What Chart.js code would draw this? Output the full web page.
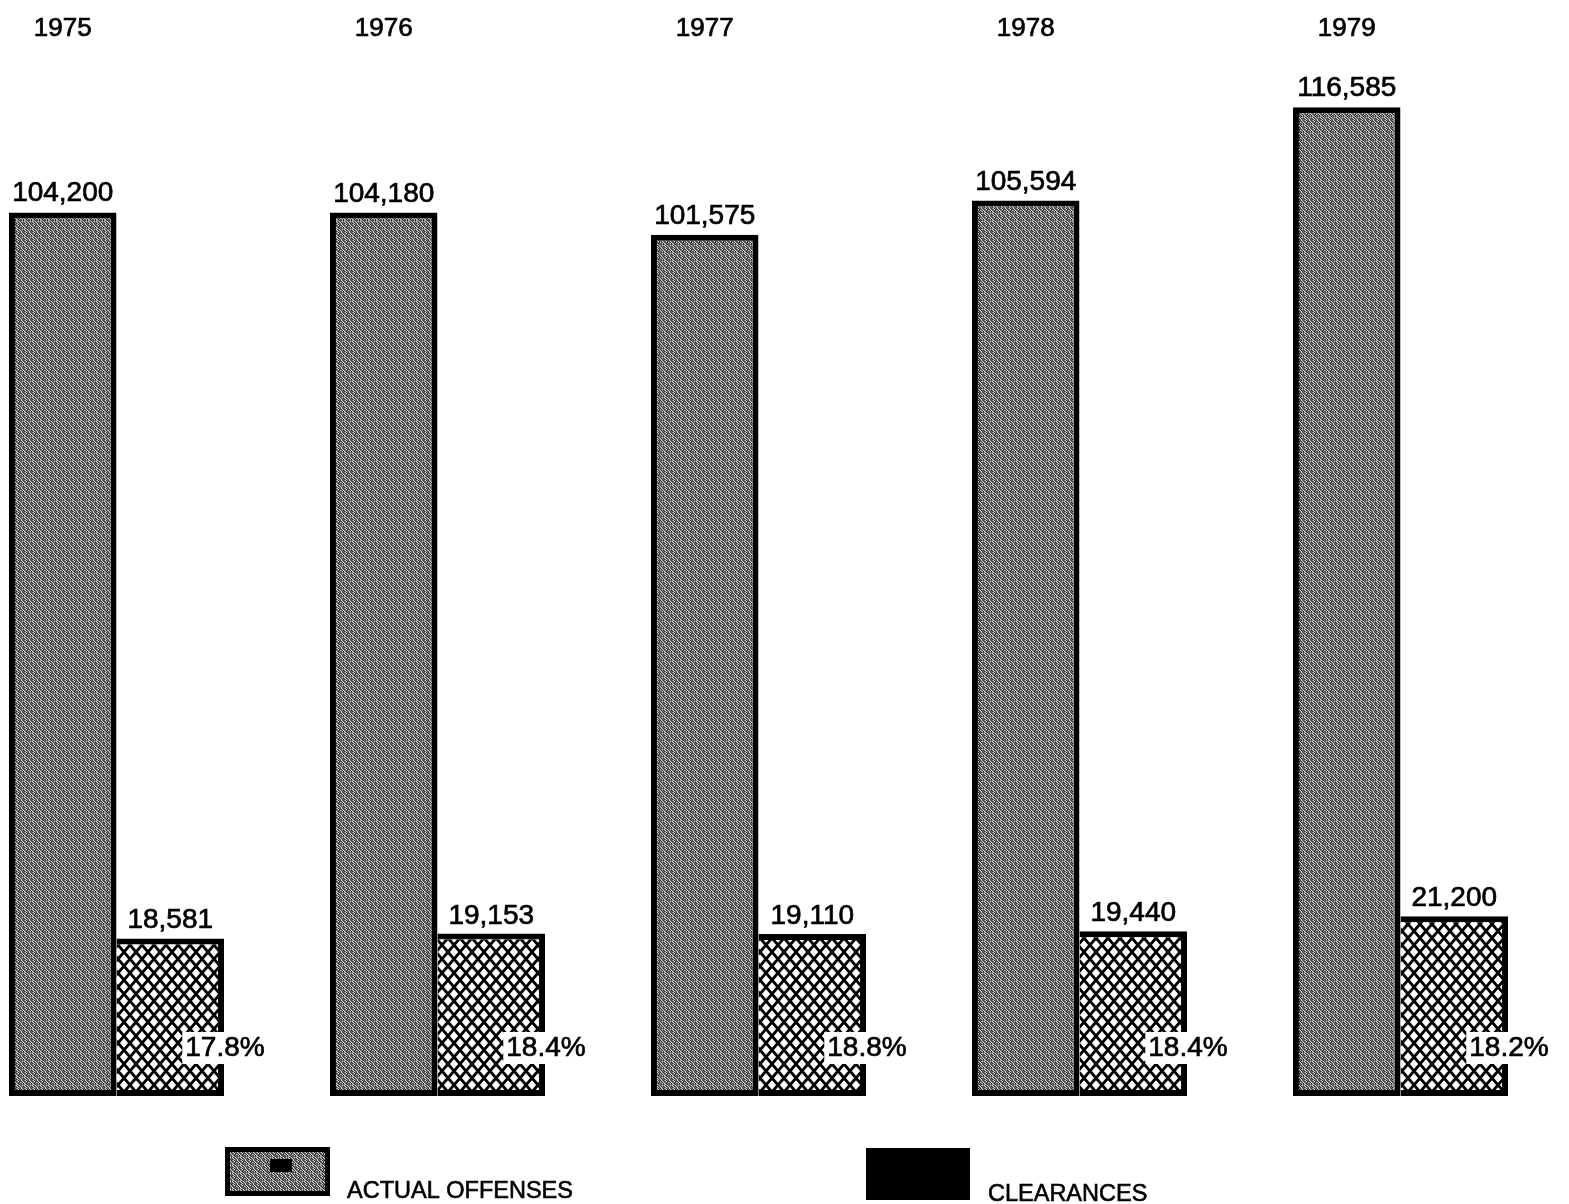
<!DOCTYPE html>
<html>
<head>
<meta charset="utf-8">
<script src="https://cdn.jsdelivr.net/npm/chart.js@4.4.1/dist/chart.umd.min.js"></script>
<style>
  html, body { margin: 0; padding: 0; background: #fff; overflow: hidden; }
  #wrap { position: absolute; left: -44px; top: 0; width: 1605px; height: 1204px; }
</style>
</head>
<body>
<div id="wrap"><canvas id="chart" width="1605" height="1204"></canvas></div>
<script>
const years = ["1975", "1976", "1977", "1978", "1979"];
const offenses = [104200, 104180, 101575, 105594, 116585];
const clearances = [18581, 19153, 19110, 19440, 21200];
const clearanceRates = ["17.8%", "18.4%", "18.8%", "18.4%", "18.2%"];
const legendLabels = ["ACTUAL OFFENSES", "CLEARANCES"];

const FONT = "'Liberation Sans', Arial, sans-serif";
const SHIFT = 44; // canvas sits 44px left of the page

// gray stipple used for the offense bars
function stipple() {
    const rows = [
        "#.+#+.#+",
        "+#.+#+.#",
        ".+#.+#+#",
        "#+.#.+#+",
        "+#+#+.+#",
        "#+.+.#+.",
        ".#+#+.#+",
        "+.#+#+.#"
    ];
    const shades = { "#": "#2e2e2e", "+": "#7e7e7e", ".": "#cfcfcf" };
    const c = document.createElement("canvas");
    c.width = 8; c.height = 8;
    const g = c.getContext("2d");
    rows.forEach((r, y) => {
        [...r].forEach((ch, x) => {
            g.fillStyle = shades[ch];
            g.fillRect(x, y, 1, 1);
        });
    });
    return g.createPattern(c, "repeat");
}

// diamond crosshatch used for the clearance bars
function crosshatch() {
    const w = 12, h = 14;
    const c = document.createElement("canvas");
    c.width = w; c.height = h;
    const g = c.getContext("2d");
    g.fillStyle = "#fff";
    g.fillRect(0, 0, w, h);
    g.strokeStyle = "#000";
    g.lineWidth = 2.8;
    for (let dx = -w; dx <= w; dx += w) {
        g.beginPath();
        g.moveTo(dx, 0); g.lineTo(dx + w, h);
        g.moveTo(dx + w, 0); g.lineTo(dx, h);
        g.stroke();
    }
    return g.createPattern(c, "repeat");
}

function heavyText(ctx, txt, x, y) {
    ctx.strokeText(txt, x, y);
    ctx.fillText(txt, x, y);
}

const labelPlugin = {
    id: "labels",
    afterDatasetsDraw(chart) {
        const ctx = chart.ctx;
        const offBars = chart.getDatasetMeta(0).data;
        const clrBars = chart.getDatasetMeta(1).data;
        ctx.save();
        ctx.fillStyle = "#000";
        ctx.strokeStyle = "#000";
        ctx.lineWidth = 0.7;
        ctx.textBaseline = "alphabetic";

        offBars.forEach((bar, i) => {
            ctx.textAlign = "center";
            ctx.font = "26px " + FONT;
            heavyText(ctx, years[i], bar.x, 36);
            ctx.font = "28px " + FONT;
            heavyText(ctx, offenses[i].toLocaleString("en-US"), bar.x, bar.y - 11);
        });

        clrBars.forEach((bar, i) => {
            ctx.textAlign = "center";
            ctx.font = "28px " + FONT;
            heavyText(ctx, clearances[i].toLocaleString("en-US"), bar.x, bar.y - 10);

            const txt = clearanceRates[i];
            const tw = ctx.measureText(txt).width;
            const left = bar.x + 15;
            const mid = bar.base - 48;
            ctx.fillStyle = "#fff";
            ctx.fillRect(left - 3, mid - 16, tw + 6, 32);
            ctx.fillStyle = "#000";
            ctx.textAlign = "left";
            ctx.textBaseline = "middle";
            heavyText(ctx, txt, left, mid);
            ctx.textBaseline = "alphabetic";
        });

        // legend
        ctx.fillStyle = chart.data.datasets[0].backgroundColor;
        ctx.fillRect(225 + SHIFT, 1147, 105, 49);
        ctx.lineWidth = 5;
        ctx.strokeRect(227.5 + SHIFT, 1149.5, 100, 44);
        ctx.fillStyle = "#000";
        ctx.fillRect(270 + SHIFT, 1159, 22, 13);
        ctx.fillRect(866 + SHIFT, 1148, 104, 52);

        ctx.lineWidth = 0.6;
        ctx.font = "23.5px " + FONT;
        ctx.textAlign = "left";
        heavyText(ctx, legendLabels[0], 347 + SHIFT, 1198);
        heavyText(ctx, legendLabels[1], 988 + SHIFT, 1201);
        ctx.restore();
    }
};

new Chart(document.getElementById("chart"), {
    type: "bar",
    data: {
        labels: years,
        datasets: [
            {
                label: legendLabels[0],
                data: offenses,
                backgroundColor: stipple(),
                borderColor: "#000",
                borderWidth: 6,
                borderSkipped: false
            },
            {
                label: legendLabels[1],
                data: clearances,
                backgroundColor: crosshatch(),
                borderColor: "#000",
                borderWidth: { left: 0, top: 6, right: 6, bottom: 6 },
                borderSkipped: false
            }
        ]
    },
    options: {
        responsive: false,
        devicePixelRatio: 1,
        animation: false,
        layout: { padding: { top: 36, bottom: 108, left: 0, right: 0 } },
        datasets: { bar: { categoryPercentage: 0.67, barPercentage: 1.0 } },
        plugins: { legend: { display: false }, tooltip: { enabled: false } },
        scales: {
            x: { display: false },
            y: { display: false, min: 0, max: 125000 }
        }
    },
    plugins: [labelPlugin]
});
</script>
</body>
</html>
